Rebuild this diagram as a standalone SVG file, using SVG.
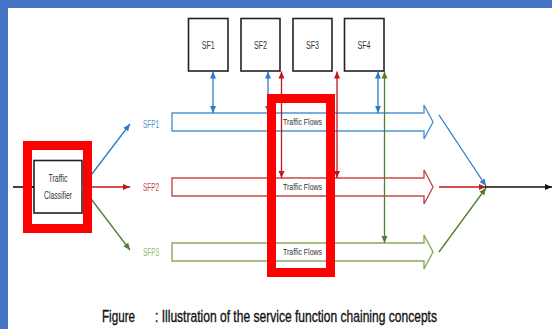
<svg xmlns="http://www.w3.org/2000/svg" width="552" height="329" viewBox="0 0 552 329">
  <style>
    .box { fill: #ffffff; stroke: #222222; stroke-width: 1.6; }
    .lbl { font-family: "Liberation Sans", Arial, sans-serif; text-anchor: middle; }
    .node-txt { font-size: 10px; fill: #333333; }
    .flow-txt { font-size: 9px; fill: #333333; }
    .band { fill: #ffffff; stroke-width: 1.4; }
    .ln { fill: none; stroke-width: 1.3; }
    .blue { stroke: #2e7cc4; }
    .red { stroke: #c0191f; }
    .green { stroke: #4f7f2e; }
    .black { stroke: #111111; stroke-width: 1.6; }
    .hl { fill: none; stroke: #ff0000; stroke-width: 9; }
  </style>
  <defs>
    <marker id="ahBlue" markerUnits="userSpaceOnUse" markerWidth="8" markerHeight="8" viewBox="0 0 8 8" refX="7" refY="4" orient="auto-start-reverse">
      <path d="M0,1 L7,4 L0,7 Z" fill="#2e7cc4"/>
    </marker>
    <marker id="ahRed" markerUnits="userSpaceOnUse" markerWidth="8" markerHeight="8" viewBox="0 0 8 8" refX="7" refY="4" orient="auto-start-reverse">
      <path d="M0,1 L7,4 L0,7 Z" fill="#c0191f"/>
    </marker>
    <marker id="ahGreen" markerUnits="userSpaceOnUse" markerWidth="8" markerHeight="8" viewBox="0 0 8 8" refX="7" refY="4" orient="auto-start-reverse">
      <path d="M0,1 L7,4 L0,7 Z" fill="#4f7f2e"/>
    </marker>
    <marker id="ahBlack" markerUnits="userSpaceOnUse" markerWidth="8" markerHeight="8" viewBox="0 0 8 8" refX="7" refY="4" orient="auto">
      <path d="M0,1 L7,4 L0,7 Z" fill="#111111"/>
    </marker>
  </defs>

  <!-- page background and frame -->
  <rect x="0" y="0" width="552" height="329" fill="#ffffff"/>
  <rect x="0" y="0" width="552" height="8" fill="#4472c4"/>
  <rect x="0" y="0" width="8" height="329" fill="#4472c4"/>

  <!-- service function chain paths -->
  <g id="sfp1">
    <path class="band" stroke="#4d94d2" d="M172,113 H424 V105 L433,122 L424,139 V131 H172 Z"/>
    <text class="lbl node-txt" x="151" y="128" textLength="16" lengthAdjust="spacingAndGlyphs" style="fill:#4d94d2">SFP1</text>
    <text class="lbl flow-txt" x="302.5" y="125" textLength="39" lengthAdjust="spacingAndGlyphs">Traffic Flows</text>
  </g>
  <g id="sfp2">
    <path class="band" stroke="#c9484a" d="M172,178 H424 V170 L433,187 L424,204 V196 H172 Z"/>
    <text class="lbl node-txt" x="151" y="191" textLength="16" lengthAdjust="spacingAndGlyphs" style="fill:#c9484a">SFP2</text>
    <text class="lbl flow-txt" x="302.5" y="190" textLength="39" lengthAdjust="spacingAndGlyphs">Traffic Flows</text>
  </g>
  <g id="sfp3">
    <path class="band" stroke="#8aa85a" d="M172,243 H424 V235 L433,252 L424,269 V261 H172 Z"/>
    <text class="lbl node-txt" x="151" y="256" textLength="16" lengthAdjust="spacingAndGlyphs" style="fill:#9db56e">SFP3</text>
    <text class="lbl flow-txt" x="302.5" y="255" textLength="39" lengthAdjust="spacingAndGlyphs">Traffic Flows</text>
  </g>

  <!-- service functions -->
  <g id="sf1">
    <rect class="box" x="188.5" y="18.5" width="39.5" height="52.5"/>
    <text class="lbl node-txt" x="208.2" y="49" textLength="13" lengthAdjust="spacingAndGlyphs">SF1</text>
  </g>
  <g id="sf2">
    <rect class="box" x="241" y="18.5" width="39" height="52.5"/>
    <text class="lbl node-txt" x="260.5" y="49" textLength="13" lengthAdjust="spacingAndGlyphs">SF2</text>
  </g>
  <g id="sf3">
    <rect class="box" x="293" y="18.5" width="39" height="52.5"/>
    <text class="lbl node-txt" x="312.5" y="49" textLength="13" lengthAdjust="spacingAndGlyphs">SF3</text>
  </g>
  <g id="sf4">
    <rect class="box" x="344.5" y="18.5" width="39.5" height="52.5"/>
    <text class="lbl node-txt" x="364" y="49" textLength="13" lengthAdjust="spacingAndGlyphs">SF4</text>
  </g>

  <!-- classifier -->
  <g id="classifier">
    <rect class="box" x="34" y="160.5" width="48" height="52.5"/>
    <text class="lbl node-txt" x="58" y="182" textLength="19" lengthAdjust="spacingAndGlyphs">Traffic</text>
    <text class="lbl node-txt" x="58" y="198.5" textLength="28" lengthAdjust="spacingAndGlyphs">Classifier</text>
  </g>

  <g id="connectors">
    <!-- ingress -->
    <line class="ln black" x1="13" y1="187" x2="34" y2="187" marker-end="url(#ahBlack)"/>
    <!-- classifier to paths -->
    <line class="ln blue" x1="82" y1="187" x2="130" y2="124" marker-end="url(#ahBlue)"/>
    <line class="ln red" x1="82" y1="187" x2="130" y2="187" marker-end="url(#ahRed)"/>
    <line class="ln green" x1="82" y1="187" x2="130" y2="250" marker-end="url(#ahGreen)"/>
    <!-- SFP1 attachments -->
    <line class="ln blue" x1="213" y1="71.5" x2="213" y2="113" marker-start="url(#ahBlue)" marker-end="url(#ahBlue)"/>
    <line class="ln blue" x1="268" y1="71.5" x2="268" y2="113" marker-start="url(#ahBlue)" marker-end="url(#ahBlue)"/>
    <line class="ln blue" x1="378" y1="71.5" x2="378" y2="113" marker-start="url(#ahBlue)" marker-end="url(#ahBlue)"/>
    <!-- SFP2 attachments -->
    <line class="ln red" x1="281.5" y1="71.5" x2="281.5" y2="178" marker-start="url(#ahRed)" marker-end="url(#ahRed)"/>
    <line class="ln red" x1="337" y1="71.5" x2="337" y2="178" marker-start="url(#ahRed)" marker-end="url(#ahRed)"/>
    <!-- SFP3 attachment -->
    <line class="ln green" x1="384.5" y1="71.5" x2="384.5" y2="243" marker-start="url(#ahGreen)" marker-end="url(#ahGreen)"/>
    <!-- merge to egress -->
    <line class="ln blue" x1="439" y1="115" x2="486" y2="186" marker-end="url(#ahBlue)"/>
    <line class="ln red" x1="439" y1="187" x2="486" y2="187" marker-end="url(#ahRed)"/>
    <line class="ln green" x1="439" y1="252" x2="486" y2="188" marker-end="url(#ahGreen)"/>
    <line class="ln black" x1="485" y1="187" x2="552" y2="187" marker-end="url(#ahBlack)"/>
  </g>

  <!-- highlight frames -->
  <g id="highlights">
    <rect class="hl" x="27.5" y="145.5" width="60" height="83"/>
    <rect class="hl" x="271.5" y="98.5" width="59" height="174"/>
  </g>

  <!-- caption -->
  <g id="caption" style="font-family:'Liberation Sans', Arial, sans-serif; font-size:17px; fill:#111111; stroke:#111111; stroke-width:0.35">
    <text x="102" y="322" textLength="33" lengthAdjust="spacingAndGlyphs">Figure</text>
    <text x="155" y="322" textLength="282" lengthAdjust="spacingAndGlyphs">: Illustration of the service function chaining concepts</text>
  </g>
</svg>
